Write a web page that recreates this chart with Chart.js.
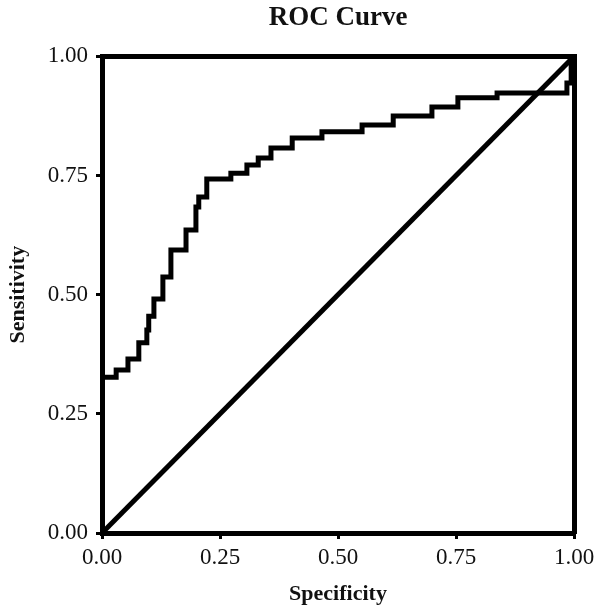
<!DOCTYPE html>
<html>
<head>
<meta charset="utf-8">
<script src="https://cdn.jsdelivr.net/npm/chart.js@4/dist/chart.umd.min.js"></script>
<style>
html,body{margin:0;padding:0;background:#fff;}
#wrap{width:600px;height:616px;}
</style>
</head>
<body>
<div id="wrap"><canvas id="c" width="600" height="616"></canvas></div>
<script>
// ROC curve vertices (1 - specificity on x, sensitivity on y), step shape
const rocX = [0, 0, 0.030, 0.055, 0.078, 0.095, 0.099, 0.110, 0.129, 0.146, 0.178, 0.199, 0.205, 0.222, 0.273, 0.307, 0.331, 0.358, 0.403, 0.466, 0.551, 0.617, 0.699, 0.754, 0.837, 0.985, 0.994, 1.0];
const rocY = [0, 0.327, 0.342, 0.365, 0.399, 0.426, 0.455, 0.491, 0.537, 0.594, 0.636, 0.684, 0.705, 0.743, 0.755, 0.772, 0.787, 0.808, 0.829, 0.842, 0.856, 0.875, 0.894, 0.913, 0.923, 0.944, 0.993, 1.0];
const refX = [0, 1];
const refY = [0, 1];
const tickValues = [0, 0.25, 0.5, 0.75, 1];
const titleText = 'ROC Curve';
const xTitle = 'Specificity';
const yTitle = 'Sensitivity';

const rocData = rocX.map((x, i) => ({x: x, y: rocY[i]}));
const refData = refX.map((x, i) => ({x: x, y: refY[i]}));

const serif = "'Liberation Serif', 'Times New Roman', serif";
const ink = '#000';
const txt = '#111';

const gridOpts = {
  display: true, drawOnChartArea: false, drawTicks: true,
  tickLength: 6, tickWidth: 3, tickColor: ink, color: ink, lineWidth: 3
};

new Chart(document.getElementById('c'), {
  type: 'scatter',
  data: {
    datasets: [
      { data: rocData, showLine: true, stepped: 'before', borderColor: ink, borderWidth: 5,
        pointRadius: 0, fill: false, xAxisID: 'x', yAxisID: 'y' },
      { data: refData, showLine: true, borderColor: ink, borderWidth: 5,
        pointRadius: 0, fill: false, xAxisID: 'x', yAxisID: 'y' }
    ]
  },
  options: {
    responsive: false,
    animation: false,
    devicePixelRatio: 1,
    layout: { padding: 0 },
    plugins: {
      legend: { display: false },
      tooltip: { enabled: false },
      title: {
        display: true, text: titleText, fullSize: false, color: txt,
        font: { family: serif, size: 27, weight: 'bold', lineHeight: 1.2 },
        padding: { top: 2, bottom: 0 }
      }
    },
    scales: {
      x: {
        type: 'linear', position: 'bottom', min: 0, max: 1,
        afterBuildTicks: s => { s.ticks = tickValues.map(v => ({value: v})); },
        afterFit: s => { s.height = 83; },
        ticks: { color: txt, padding: 5, maxRotation: 0, autoSkip: false,
                 font: { family: serif, size: 23 },
                 callback: v => Number(v).toFixed(2) },
        grid: gridOpts,
        border: { display: true, width: 5, color: ink },
        title: { display: true, text: xTitle, color: txt,
                 font: { family: serif, size: 22, weight: 'bold', lineHeight: 1.2 },
                 padding: { top: 0, bottom: 8 } }
      },
      y: {
        type: 'linear', position: 'left', min: 0, max: 1,
        afterBuildTicks: s => { s.ticks = tickValues.map(v => ({value: v})); },
        afterFit: s => { s.width = 102; },
        ticks: { color: txt, padding: 8, autoSkip: false,
                 font: { family: serif, size: 23 },
                 callback: v => Number(v).toFixed(2) },
        grid: gridOpts,
        border: { display: true, width: 5, color: ink },
        title: { display: true, text: yTitle, color: txt,
                 font: { family: serif, size: 22, weight: 'bold', lineHeight: 1.2 },
                 padding: { top: 5, bottom: 0 } }
      },
      x2: {
        type: 'linear', position: 'top', min: 0, max: 1, display: true,
        afterFit: s => { s.height = 22; },
        ticks: { display: false },
        grid: { display: false, drawTicks: false },
        border: { display: true, width: 5, color: ink }
      },
      y2: {
        type: 'linear', position: 'right', min: 0, max: 1, display: true,
        afterFit: s => { s.width = 26; },
        ticks: { display: false },
        grid: { display: false, drawTicks: false },
        border: { display: true, width: 5, color: ink }
      }
    }
  }
});
</script>
</body>
</html>
